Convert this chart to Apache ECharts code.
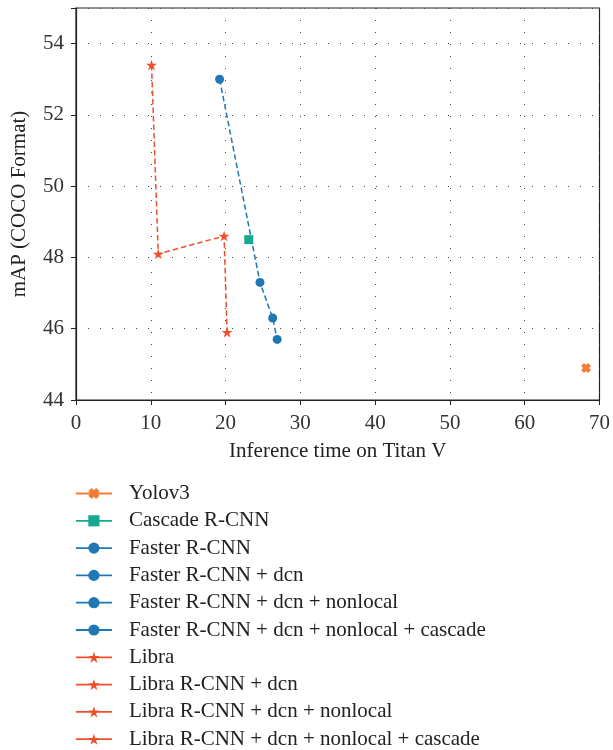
<!DOCTYPE html>
<html>
<head>
<meta charset="utf-8">
<script src="https://cdn.jsdelivr.net/npm/echarts@6/dist/echarts.min.js"></script>
<style>html,body{margin:0;padding:0;background:#fff}#c{width:613px;height:750px}</style>
</head>
<body>
<div id="c"></div>
<script>
// ---- data ----
const yolov3 = [[68.2, 44.9]];
const cascade = [[23.1, 48.5]];
const fasterNames = ['Faster R-CNN', 'Faster R-CNN + dcn', 'Faster R-CNN + dcn + nonlocal', 'Faster R-CNN + dcn + nonlocal + cascade'];
const fasterX = [19.2, 24.6, 26.3, 26.9];
const fasterY = [53.0, 47.3, 46.3, 45.7];
const libraNames = ['Libra', 'Libra R-CNN + dcn', 'Libra R-CNN + dcn + nonlocal', 'Libra R-CNN + dcn + nonlocal + cascade'];
const libraX = [10.1, 11.0, 19.8, 20.2];
const libraY = [53.4, 48.1, 48.6, 45.9];
const xTicks = [0, 10, 20, 30, 40, 50, 60, 70];
const yTicks = [44, 46, 48, 50, 52, 54];

const FONT = 'Liberation Serif';
const cYolo = '#f57a35', cCas = '#17a98f', cFast = '#1f77b4', cLib = '#ef4f2b';
const starPath = 'path://M1,0L1.2245,0.691L1.951,0.691L1.363,1.118L1.588,1.809L1,1.382L0.412,1.809L0.637,1.118L0.049,0.691L0.7755,0.691Z';
const xPath = 'path://M0.3,0L0.5,0.2L0.7,0L1,0.3L0.8,0.5L1,0.7L0.7,1L0.5,0.8L0.3,1L0,0.7L0.2,0.5L0,0.3Z';

const series = [];
function pt(name, data, color, symbol, size) {
  series.push({
    name, type: 'line', data, symbol, symbolSize: size, symbolKeepAspect: true,
    itemStyle: { color }, lineStyle: { color, width: 1.5 }, z: 5, animation: false
  });
}
pt('Yolov3', yolov3, cYolo, xPath, 10);
pt('Cascade R-CNN', cascade, cCas, 'rect', 9);
fasterNames.forEach((n, i) => pt(n, [[fasterX[i], fasterY[i]]], cFast, 'circle', 9));
libraNames.forEach((n, i) => pt(n, [[libraX[i], libraY[i]]], cLib, starPath, 11));
// dashed connectors
series.push({
  name: 'fasterLink', type: 'line', data: fasterX.map((x, i) => [x, fasterY[i]]),
  symbol: 'none', lineStyle: { color: cFast, width: 1.5, type: [5.5, 3] }, z: 3, animation: false
});
series.push({
  name: 'libraLink', type: 'line', data: libraX.map((x, i) => [x, libraY[i]]),
  symbol: 'none', lineStyle: { color: cLib, width: 1.5, type: [5.5, 3] }, z: 3, animation: false
});

const chart = echarts.init(document.getElementById('c'), null, { renderer: 'canvas' });
chart.setOption({
  animation: false,
  backgroundColor: '#fff',
  grid: { left: 76, top: 8, right: 11, bottom: 350, show: true, borderColor: '#222', borderWidth: 1.2, backgroundColor: 'transparent' },
  xAxis: {
    type: 'value', min: 0, max: 70, interval: 10,
    name: 'Inference time on Titan V', nameLocation: 'middle', nameGap: 41,
    nameTextStyle: { fontFamily: FONT, fontSize: 21, color: '#222' },
    axisLine: { show: true, lineStyle: { color: '#222', width: 1.2 } },
    axisTick: { show: true, length: 5, lineStyle: { color: '#222' } },
    axisLabel: { fontFamily: FONT, fontSize: 21, color: '#333', margin: 13, formatter: v => xTicks.includes(v) ? String(v) : '' },
    splitLine: { show: true, lineStyle: { color: '#444', width: 1, type: [1, 11] } }
  },
  yAxis: {
    type: 'value', min: 44, max: 55, interval: 2,
    name: 'mAP (COCO Format)', nameLocation: 'middle', nameGap: 46,
    nameTextStyle: { fontFamily: FONT, fontSize: 21, color: '#222' },
    axisLine: { show: true, lineStyle: { color: '#222', width: 1.2 } },
    axisTick: { show: true, length: 5, lineStyle: { color: '#222' } },
    axisLabel: { fontFamily: FONT, fontSize: 21, color: '#333', margin: 12, formatter: v => yTicks.includes(v) ? String(v) : '' },
    splitLine: { show: true, lineStyle: { color: '#444', width: 1, type: [1, 11] } }
  },
  legend: {
    orient: 'vertical', left: 75, top: 483, height: 300, padding: 0,
    itemWidth: 36, itemHeight: 14, itemGap: 6.3,
    data: ['Yolov3', 'Cascade R-CNN'].concat(fasterNames, libraNames),
    lineStyle: { type: 'solid', width: 1.8 },
    textStyle: { fontFamily: FONT, fontSize: 21, lineHeight: 20, color: '#222', padding: [0, 0, 0, 12] }
  },
  series
});
</script>
</body>
</html>
